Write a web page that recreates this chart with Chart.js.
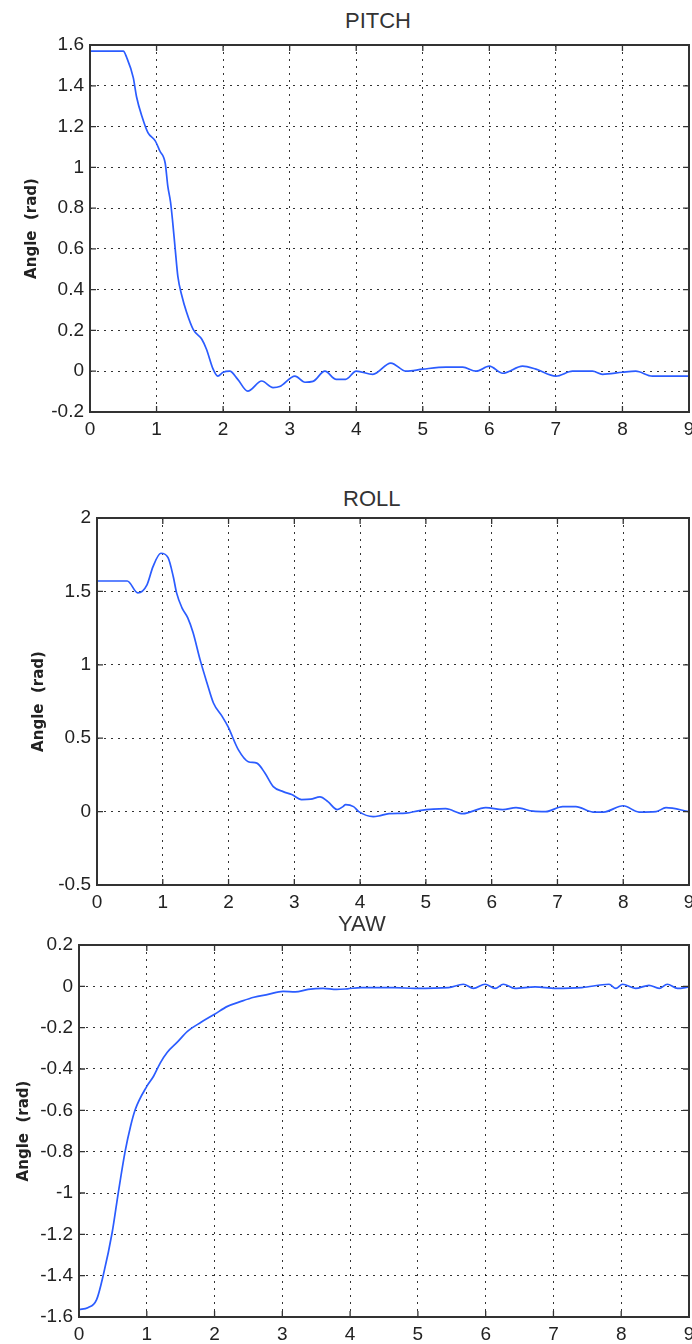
<!DOCTYPE html>
<html lang="en">
  <head>
    <meta charset="utf-8" />
    <title>Attitude angles</title>
    <style>
      * {
        margin: 0;
        padding: 0;
      }
      body {
        width: 692px;
        height: 1344px;
        position: relative;
        overflow: hidden;
        background: white;
        font-family: "Liberation Sans", sans-serif;
      }
      canvas {
        position: absolute;
        left: 0;
      }
      .plotTitle {
        position: absolute;
        font-size: 22px;
        line-height: 22px;
        color: #333;
        white-space: nowrap;
      }
    </style>
  </head>
  <body>
    <div class="plotTitle" style="left: 345px; top: 10px">PITCH</div>
    <canvas id="pitchChart" width="692" height="450" style="top: 0px"></canvas>

    <div class="plotTitle" style="left: 343px; top: 488px">ROLL</div>
    <canvas id="rollChart" width="692" height="445" style="top: 470px"></canvas>

    <div class="plotTitle" style="left: 338px; top: 913px">YAW</div>
    <canvas id="yawChart" width="692" height="414" style="top: 930px"></canvas>

    <script src="https://cdn.jsdelivr.net/npm/chart.js"></script>
    <script>
      // time axis (s) and angles (rad)
      const pitchTime = [
        0, 0.5, 0.55, 0.65, 0.7, 0.78, 0.87, 0.98, 1.05, 1.13, 1.17, 1.21,
        1.24, 1.28, 1.32, 1.38, 1.45, 1.55, 1.68, 1.75, 1.85, 1.92, 2.0, 2.1,
        2.22, 2.37, 2.58, 2.75, 2.85, 3.08, 3.23, 3.35, 3.53, 3.7, 3.84, 4.0,
        4.25, 4.52, 4.75, 5.0, 5.35, 5.6, 5.8, 6.0, 6.2, 6.5, 6.7, 7.0, 7.25,
        7.55, 7.7, 8.0, 8.2, 8.45, 9.0,
      ];
      const pitchAngle = [
        1.57, 1.57, 1.54, 1.44, 1.345, 1.25, 1.17, 1.13, 1.08, 1.02, 0.905,
        0.83, 0.74, 0.6, 0.465, 0.37, 0.29, 0.205, 0.157, 0.108, 0.01, -0.024,
        -0.005, 0.0, -0.04, -0.098, -0.048, -0.08, -0.075, -0.024, -0.054,
        -0.05, 0.0, -0.04, -0.04, 0.0, -0.015, 0.04, 0.0, 0.01, 0.02, 0.02,
        0.0, 0.025, -0.01, 0.025, 0.01, -0.024, 0.0, 0.0, -0.015, -0.005, 0.0,
        -0.024, -0.024,
      ];

      const rollTime = [
        0, 0.46, 0.62, 0.76, 0.85, 0.97, 1.08, 1.16, 1.21, 1.29, 1.38, 1.46,
        1.57, 1.67, 1.77, 1.9, 1.99, 2.15, 2.3, 2.43, 2.55, 2.68, 2.83, 2.96,
        3.11, 3.25, 3.39, 3.51, 3.65, 3.74, 3.78, 3.9, 3.98, 4.2, 4.28, 4.44,
        4.7, 4.9, 5.3, 5.56, 5.91, 6.17, 6.37, 6.63, 6.82, 7.08, 7.28, 7.54,
        7.7, 8.0, 8.24, 8.5, 8.65, 9.0,
      ];
      const rollAngle = [
        1.571, 1.571, 1.49, 1.545, 1.667, 1.76, 1.73, 1.6, 1.49, 1.39, 1.32,
        1.22, 1.03, 0.88, 0.74, 0.65, 0.58, 0.42, 0.34, 0.33, 0.265, 0.17,
        0.136, 0.116, 0.082, 0.085, 0.1, 0.068, 0.014, 0.034, 0.048, 0.034,
        0.0, -0.034, -0.03, -0.014, -0.01, 0.007, 0.02, -0.014, 0.027, 0.014,
        0.027, 0.003, 0.0, 0.034, 0.034, -0.003, -0.003, 0.04, -0.003, 0.0,
        0.027, 0.0,
      ];

      const yawTime = [
        0, 0.13, 0.26, 0.36, 0.49, 0.58, 0.68, 0.76, 0.83, 1.0, 1.1, 1.2, 1.3,
        1.45, 1.6, 1.8, 2.0, 2.19, 2.39, 2.58, 2.79, 3.01, 3.19, 3.38, 3.6,
        3.8, 3.96, 4.16, 4.65, 4.95, 5.45, 5.67, 5.82, 5.99, 6.14, 6.26, 6.43,
        6.73, 7.03, 7.42, 7.82, 7.92, 8.02, 8.21, 8.41, 8.56, 8.68, 8.83, 9.0,
      ];
      const yawAngle = [
        -1.564, -1.555, -1.516, -1.395, -1.19, -0.998, -0.8, -0.678, -0.596,
        -0.484, -0.435, -0.37, -0.32, -0.27, -0.218, -0.174, -0.135, -0.097,
        -0.073, -0.053, -0.039, -0.024, -0.027, -0.015, -0.01, -0.015, -0.012,
        -0.006, -0.006, -0.01, -0.006, 0.01, -0.01, 0.01, -0.01, 0.01, -0.01,
        -0.003, -0.01, -0.006, 0.01, -0.01, 0.01, -0.01, 0.005, -0.01, 0.01,
        -0.01, -0.003,
      ];

      // tick ranges for the angle axes
      const pitchTicks = { min: -0.2, max: 1.6, step: 0.2 };
      const rollTicks = { min: -0.5, max: 2, step: 0.5 };
      const yawTicks = { min: -1.6, max: 0.2, step: 0.2 };

      const tickFont = { family: "Liberation Sans", size: 19 };
      const gridDash = [2, 5];

      // box around the plot area with inward tick marks on all sides
      const frameBox = {
        id: "frameBox",
        afterDatasetsDraw(chart, args, options) {
          const {
            ctx,
            chartArea: { left, right, top, bottom },
            scales: { x, y },
          } = chart;
          ctx.save();
          ctx.strokeStyle = options.color;
          ctx.lineWidth = options.width;
          ctx.strokeRect(left, top, right - left, bottom - top);

          ctx.lineWidth = 1.3;
          ctx.beginPath();
          x.ticks.forEach((t) => {
            const px = x.getPixelForValue(t.value);
            ctx.moveTo(px, bottom);
            ctx.lineTo(px, bottom - options.tick);
            ctx.moveTo(px, top);
            ctx.lineTo(px, top + options.tick);
          });
          y.ticks.forEach((t) => {
            const py = y.getPixelForValue(t.value);
            ctx.moveTo(left, py);
            ctx.lineTo(left + options.tick, py);
            ctx.moveTo(right, py);
            ctx.lineTo(right - options.tick, py);
          });
          ctx.stroke();
          ctx.restore();
        },
      };

      const formatTick = (value) => String(parseFloat(value.toFixed(1)));

      const makeChart = (id, time, angle, range, box) => {
        const points = time.map((t, i) => ({ x: t, y: angle[i] }));

        const config = {
          type: "line",
          data: {
            datasets: [
              {
                data: points,
                borderColor: "#2b5cff",
                borderWidth: 1.7,
                pointRadius: 0,
                cubicInterpolationMode: "monotone",
                fill: false,
              },
            ],
          },
          options: {
            responsive: false,
            animation: false,
            layout: {
              autoPadding: false,
              padding: {
                left: 0,
                right: 3,
                top: box.top,
                bottom: box.bottom,
              },
            },
            plugins: {
              legend: { display: false },
              tooltip: { enabled: false },
              frameBox: { color: "#333", width: 2, tick: 6 },
            },
            scales: {
              x: {
                type: "linear",
                min: 0,
                max: 9,
                afterFit(scale) {
                  scale.height = box.xHeight;
                  scale.paddingLeft = 0;
                  scale.paddingRight = 0;
                },
                ticks: {
                  stepSize: 1,
                  padding: 6,
                  color: "#222",
                  font: tickFont,
                  maxRotation: 0,
                  callback: formatTick,
                },
                grid: { color: "rgba(0,0,0,0.8)", lineWidth: 1, drawTicks: false },
                border: { display: false, dash: gridDash },
              },
              y: {
                type: "linear",
                min: range.min,
                max: range.max,
                afterFit(scale) {
                  scale.width = box.yWidth;
                  scale.paddingTop = 0;
                  scale.paddingBottom = 0;
                },
                ticks: {
                  stepSize: range.step,
                  padding: 6,
                  color: "#222",
                  font: tickFont,
                  callback: formatTick,
                },
                grid: { color: "rgba(0,0,0,0.8)", lineWidth: 1, drawTicks: false },
                border: { display: false, dash: gridDash },
                title: {
                  display: true,
                  text: "Angle  (rad)",
                  color: "#222",
                  font: { family: "DejaVu Sans", size: 15, weight: "bold" },
                  padding: { top: box.titlePad, bottom: 0 },
                },
              },
            },
          },
          plugins: [frameBox],
        };

        return new Chart(document.getElementById(id), config);
      };

      // init render block
      const pitchChart = makeChart("pitchChart", pitchTime, pitchAngle, pitchTicks, {
        top: 45, bottom: 8, xHeight: 30, yWidth: 90, titlePad: 23,
      });
      const rollChart = makeChart("rollChart", rollTime, rollAngle, rollTicks, {
        top: 48, bottom: 0, xHeight: 30, yWidth: 97, titlePad: 30,
      });
      const yawChart = makeChart("yawChart", yawTime, yawAngle, yawTicks, {
        top: 15, bottom: 0, xHeight: 27, yWidth: 79, titlePad: 15,
      });
    </script>
  </body>
</html>
